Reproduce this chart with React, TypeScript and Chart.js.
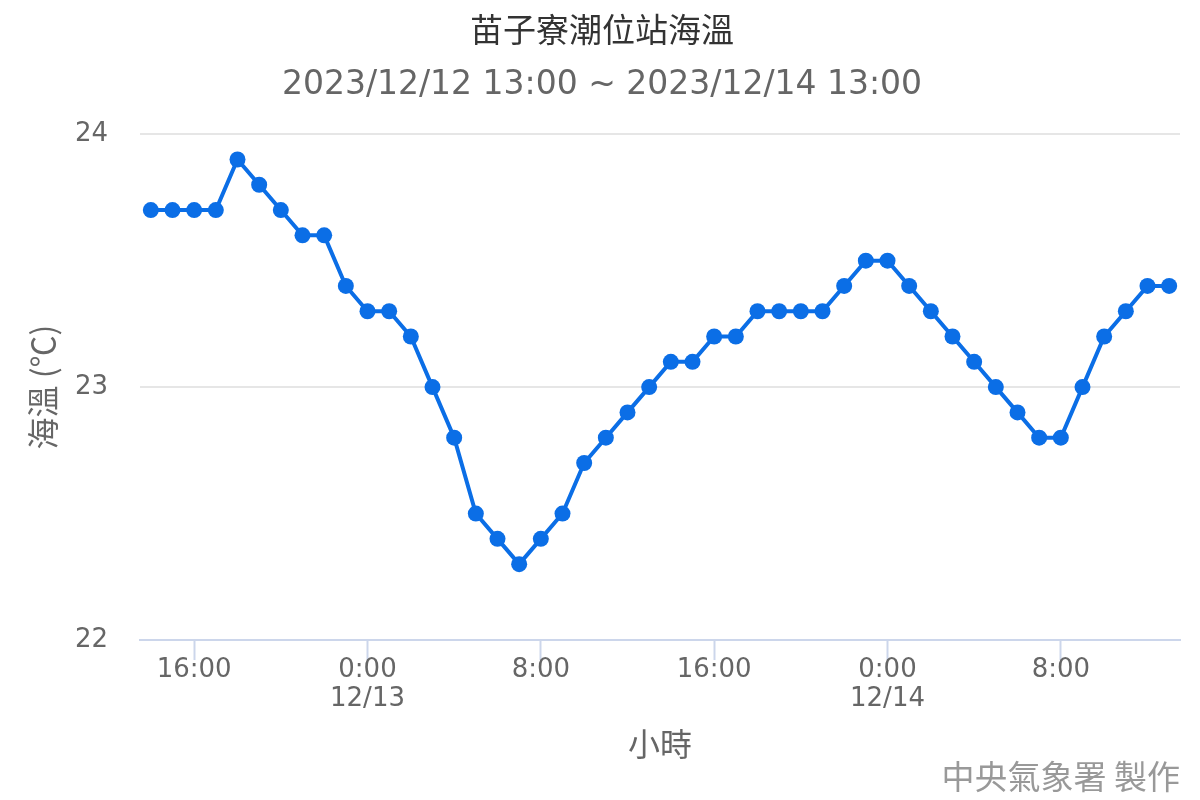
import React, { useEffect, useRef } from 'react';
import { Chart, registerables } from 'chart.js';

Chart.register(...registerables);

// hourly observation times, 12/12 14:00 -> 12/14 13:00
const times = [
  '12/12 14:00', '12/12 15:00', '12/12 16:00', '12/12 17:00', '12/12 18:00', '12/12 19:00',
  '12/12 20:00', '12/12 21:00', '12/12 22:00', '12/12 23:00', '12/13 0:00', '12/13 1:00',
  '12/13 2:00', '12/13 3:00', '12/13 4:00', '12/13 5:00', '12/13 6:00', '12/13 7:00',
  '12/13 8:00', '12/13 9:00', '12/13 10:00', '12/13 11:00', '12/13 12:00', '12/13 13:00',
  '12/13 14:00', '12/13 15:00', '12/13 16:00', '12/13 17:00', '12/13 18:00', '12/13 19:00',
  '12/13 20:00', '12/13 21:00', '12/13 22:00', '12/13 23:00', '12/14 0:00', '12/14 1:00',
  '12/14 2:00', '12/14 3:00', '12/14 4:00', '12/14 5:00', '12/14 6:00', '12/14 7:00',
  '12/14 8:00', '12/14 9:00', '12/14 10:00', '12/14 11:00', '12/14 12:00', '12/14 13:00',
];

const seaTemp = [
  23.7, 23.7, 23.7, 23.7, 23.9, 23.8, 23.7, 23.6, 23.6, 23.4, 23.3, 23.3,
  23.2, 23.0, 22.8, 22.5, 22.4, 22.3, 22.4, 22.5, 22.7, 22.8, 22.9, 23.0,
  23.1, 23.1, 23.2, 23.2, 23.3, 23.3, 23.3, 23.3, 23.4, 23.5, 23.5, 23.4,
  23.3, 23.2, 23.1, 23.0, 22.9, 22.8, 22.8, 23.0, 23.2, 23.3, 23.4, 23.4,
];

// which times get a tick, and what it says
const tickTimes = ['12/12 16:00', '12/13 0:00', '12/13 8:00', '12/13 16:00', '12/14 0:00', '12/14 8:00'];
const tickLabels = [['16:00'], ['0:00', '12/13'], ['8:00'], ['16:00'], ['0:00', '12/14'], ['8:00']];

const yTicks = [22, 23, 24];

const FONT = "'DejaVu Sans', 'Noto Sans CJK TC', sans-serif";
const CJK = "'Noto Sans CJK TC', 'DejaVu Sans', sans-serif";

const creditPlugin = {
  id: 'credit',
  afterDraw(chart: Chart) {
    const ctx = chart.ctx;
    ctx.save();
    ctx.font = `33px ${CJK}`;
    ctx.fillStyle = '#999999';
    ctx.textAlign = 'right';
    ctx.textBaseline = 'middle';
    ctx.fillText('中央氣象署 製作', 1180, 776);
    ctx.restore();
  },
};

const SeaTempChart: React.FC = () => {
  const chartRef = useRef<HTMLCanvasElement | null>(null);
  const chartInstance = useRef<Chart | null>(null);

  useEffect(() => {
    if (chartInstance.current) {
      chartInstance.current.destroy();
    }
    const ctx = chartRef.current?.getContext('2d');
    if (!ctx) return;

    chartInstance.current = new Chart(ctx, {
      type: 'line',
      data: {
        labels: times,
        datasets: [
          {
            label: '海溫',
            data: seaTemp,
            borderColor: '#0b6ee6',
            backgroundColor: '#0b6ee6',
            borderWidth: 4,
            pointRadius: 8,
            pointBorderWidth: 0,
            pointBackgroundColor: '#0b6ee6',
            tension: 0,
          },
        ],
      },
      plugins: [creditPlugin],
      options: {
        animation: false,
        responsive: true,
        maintainAspectRatio: false,
        layout: {
          padding: { top: 0, left: 24, right: 20, bottom: 37 },
        },
        plugins: {
          legend: { display: false },
          tooltip: { enabled: false },
          title: {
            display: true,
            text: '苗子寮潮位站海溫',
            color: '#333333',
            font: { family: CJK, size: 33, weight: 'normal', lineHeight: 1.2 },
            padding: { top: 10, bottom: 0 },
          },
          subtitle: {
            display: true,
            text: '2023/12/12 13:00 ~ 2023/12/14 13:00',
            color: '#666666',
            font: { family: FONT, size: 33, weight: 'normal', lineHeight: 1.2 },
            padding: { top: 16, bottom: 29 },
          },
        },
        scales: {
          x: {
            type: 'category',
            offset: true,
            afterFit: (axis) => {
              axis.height = 123;
            },
            grid: {
              display: true,
              drawOnChartArea: false,
              drawTicks: true,
              tickLength: 20,
              tickColor: '#ccd6eb',
              tickWidth: 2,
              offset: false,
            },
            border: { display: true, color: '#ccd6eb', width: 2 },
            ticks: {
              autoSkip: false,
              maxRotation: 0,
              padding: -4,
              color: '#666666',
              font: { family: FONT, size: 26, lineHeight: 1.1 },
              callback: (_value, index) => {
                const i = tickTimes.indexOf(times[index]);
                return i >= 0 ? tickLabels[i] : null;
              },
            },
            title: {
              display: true,
              text: '小時',
              color: '#666666',
              font: { family: CJK, size: 32, lineHeight: 1.2 },
              padding: { top: 13, bottom: 0 },
            },
          },
          y: {
            min: 22,
            max: 24,
            afterBuildTicks: (axis) => {
              axis.ticks = yTicks.map((v) => ({ value: v }));
            },
            afterFit: (axis) => {
              axis.width = 116;
            },
            grid: {
              color: '#e6e6e6',
              lineWidth: 2,
              drawTicks: false,
            },
            border: { display: false },
            ticks: {
              padding: 32,
              color: '#666666',
              font: { family: FONT, size: 26 },
            },
            title: {
              display: true,
              text: '海溫 (℃)',
              color: '#666666',
              font: { family: CJK, size: 32, lineHeight: 1.2 },
              padding: { top: 0, bottom: 12 },
            },
          },
        },
      },
    });

    return () => {
      if (chartInstance.current) {
        chartInstance.current.destroy();
        chartInstance.current = null;
      }
    };
  }, []);

  return (
    <div style={{ position: 'fixed', left: 0, top: 0, width: 1200, height: 800, background: '#ffffff' }}>
      <canvas ref={chartRef} />
    </div>
  );
};

export default function App() {
  return <SeaTempChart />;
}
